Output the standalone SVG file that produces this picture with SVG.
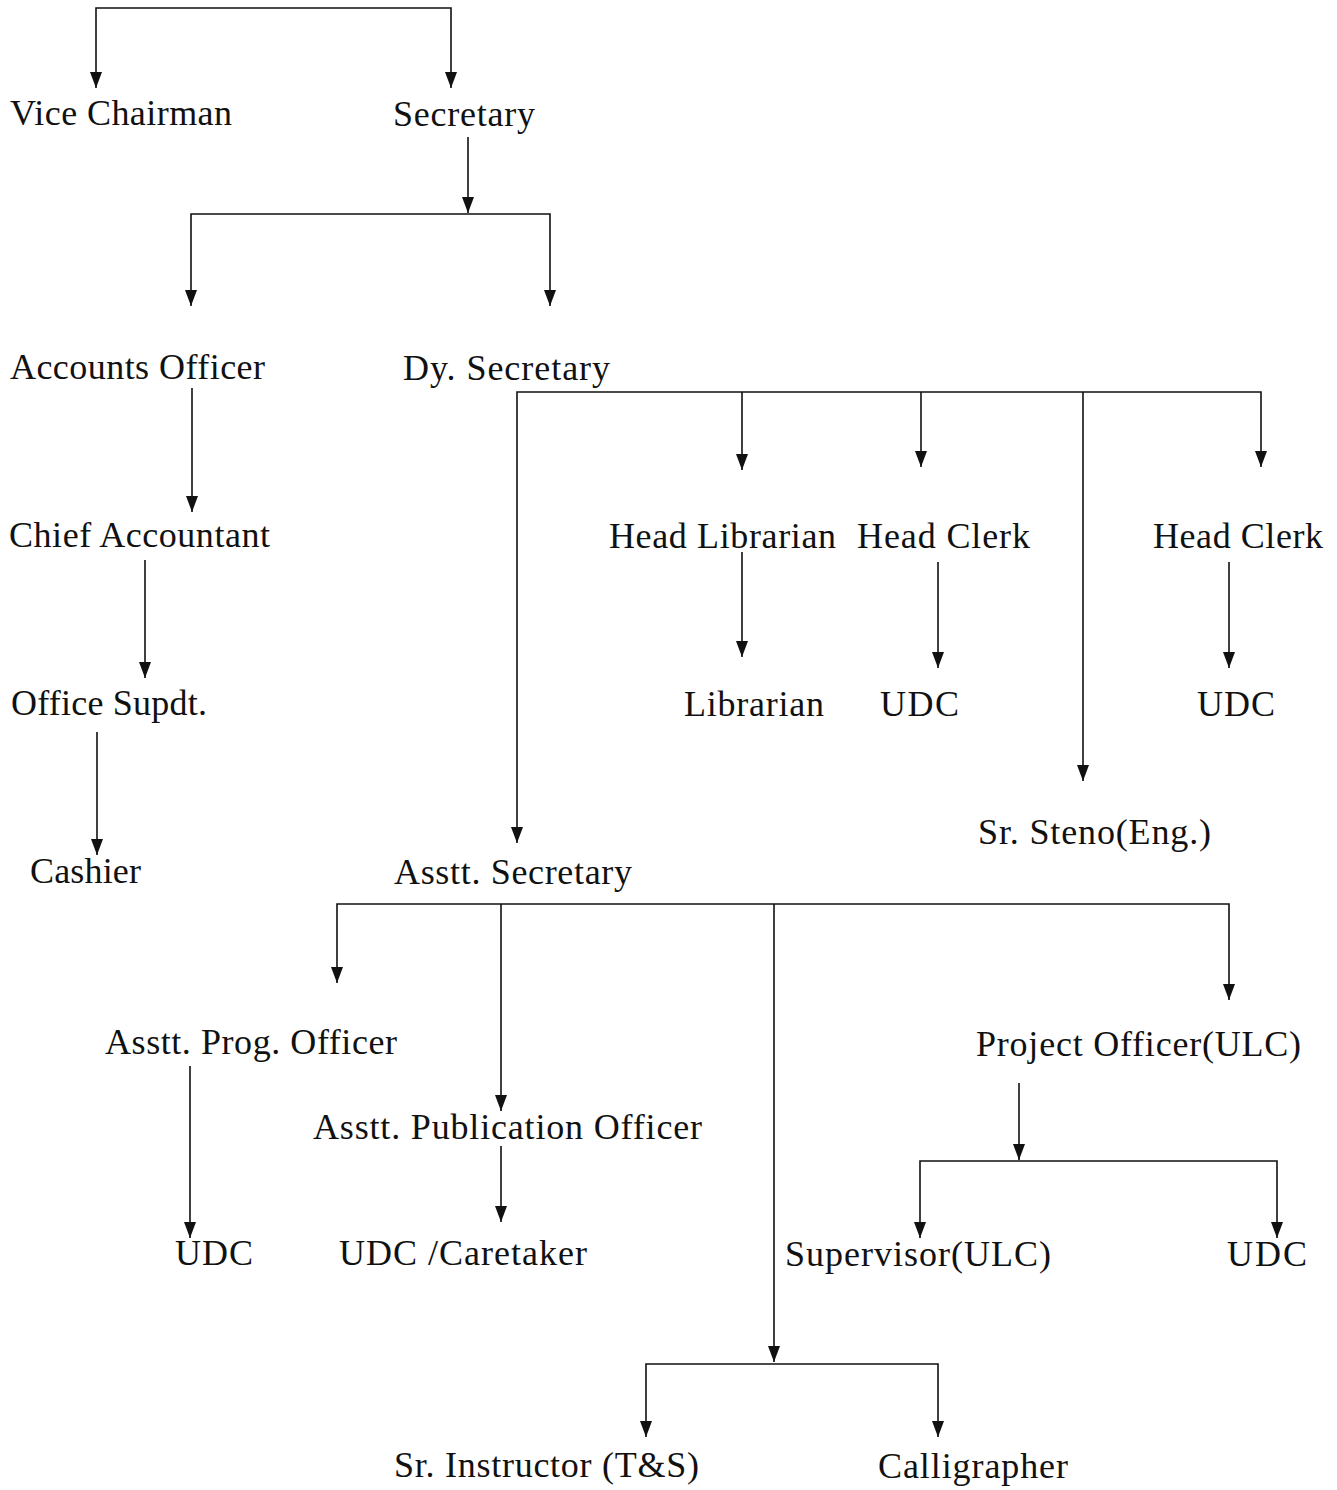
<svg xmlns="http://www.w3.org/2000/svg" width="1337" height="1490" viewBox="0 0 1337 1490">
<style>
text{font-family:"Liberation Serif","Times New Roman",serif;font-size:36px;fill:#111}
.c path{fill:none;stroke:#111;stroke-width:1.6}
</style>
<defs>
<marker id="ah" viewBox="0 0 16 12" refX="16" refY="6" markerWidth="16" markerHeight="12" markerUnits="userSpaceOnUse" orient="auto-start-reverse">
<path d="M0,0 L16,6 L0,12 Z" fill="#111"/>
</marker>
</defs>
<rect width="1337" height="1490" fill="#fff"/>
<g class="c" id="connectors">
<path d="M96,88 V8 H451 V88" marker-start="url(#ah)" marker-end="url(#ah)"/>
<path d="M468,137 V213" marker-end="url(#ah)"/>
<path d="M191,306 V214 H550 V306" marker-start="url(#ah)" marker-end="url(#ah)"/>
<path d="M192,388 V512" marker-end="url(#ah)"/>
<path d="M145,560 V678" marker-end="url(#ah)"/>
<path d="M97,732 V855" marker-end="url(#ah)"/>
<path d="M517,843 V392 H1261 V467" marker-start="url(#ah)" marker-end="url(#ah)"/>
<path d="M742,392 V470" marker-end="url(#ah)"/>
<path d="M921,392 V467" marker-end="url(#ah)"/>
<path d="M1083,392 V781" marker-end="url(#ah)"/>
<path d="M742,552 V657" marker-end="url(#ah)"/>
<path d="M938,562 V668" marker-end="url(#ah)"/>
<path d="M1229,562 V668" marker-end="url(#ah)"/>
<path d="M337,983 V904 H1229 V1000" marker-start="url(#ah)" marker-end="url(#ah)"/>
<path d="M501,904 V1111" marker-end="url(#ah)"/>
<path d="M774,904 V1362" marker-end="url(#ah)"/>
<path d="M190,1066 V1238" marker-end="url(#ah)"/>
<path d="M501,1146 V1222" marker-end="url(#ah)"/>
<path d="M1019,1083 V1160" marker-end="url(#ah)"/>
<path d="M920,1238 V1161 H1277 V1238" marker-start="url(#ah)" marker-end="url(#ah)"/>
<path d="M646,1437 V1364 H938 V1437" marker-start="url(#ah)" marker-end="url(#ah)"/>
</g>
<g id="vice-chairman"><text x="10" y="125" textLength="222">Vice Chairman</text></g>
<g id="secretary"><text x="393" y="126" textLength="142">Secretary</text></g>
<g id="accounts-officer"><text x="10" y="379" textLength="255">Accounts Officer</text></g>
<g id="dy-secretary"><text x="403" y="380" textLength="207">Dy. Secretary</text></g>
<g id="chief-accountant"><text x="9" y="547" textLength="261">Chief Accountant</text></g>
<g id="head-librarian"><text x="609" y="548" textLength="227">Head Librarian</text></g>
<g id="head-clerk-1"><text x="857" y="548" textLength="173">Head Clerk</text></g>
<g id="head-clerk-2"><text x="1153" y="548" textLength="170">Head Clerk</text></g>
<g id="office-supdt"><text x="11" y="715" textLength="196">Office Supdt.</text></g>
<g id="librarian"><text x="684" y="716" textLength="140">Librarian</text></g>
<g id="udc-1"><text x="880" y="716" textLength="79">UDC</text></g>
<g id="udc-2"><text x="1197" y="716" textLength="78">UDC</text></g>
<g id="sr-steno"><text x="978" y="844" textLength="233">Sr. Steno(Eng.)</text></g>
<g id="cashier"><text x="30" y="883" textLength="111">Cashier</text></g>
<g id="asstt-secretary"><text x="394" y="884" textLength="238">Asstt. Secretary</text></g>
<g id="asstt-prog-officer"><text x="105" y="1054" textLength="292">Asstt. Prog. Officer</text></g>
<g id="project-officer"><text x="976" y="1056" textLength="325">Project Officer(ULC)</text></g>
<g id="asstt-publication-officer"><text x="313" y="1139" textLength="389">Asstt. Publication Officer</text></g>
<g id="udc-3"><text x="175" y="1265" textLength="78">UDC</text></g>
<g id="udc-caretaker"><text x="339" y="1265" textLength="248">UDC /Caretaker</text></g>
<g id="supervisor"><text x="785" y="1266" textLength="266">Supervisor(ULC)</text></g>
<g id="udc-4"><text x="1227" y="1266" textLength="80">UDC</text></g>
<g id="sr-instructor"><text x="394" y="1477" textLength="305">Sr. Instructor (T&amp;S)</text></g>
<g id="calligrapher"><text x="878" y="1478" textLength="190">Calligrapher</text></g>
</svg>
